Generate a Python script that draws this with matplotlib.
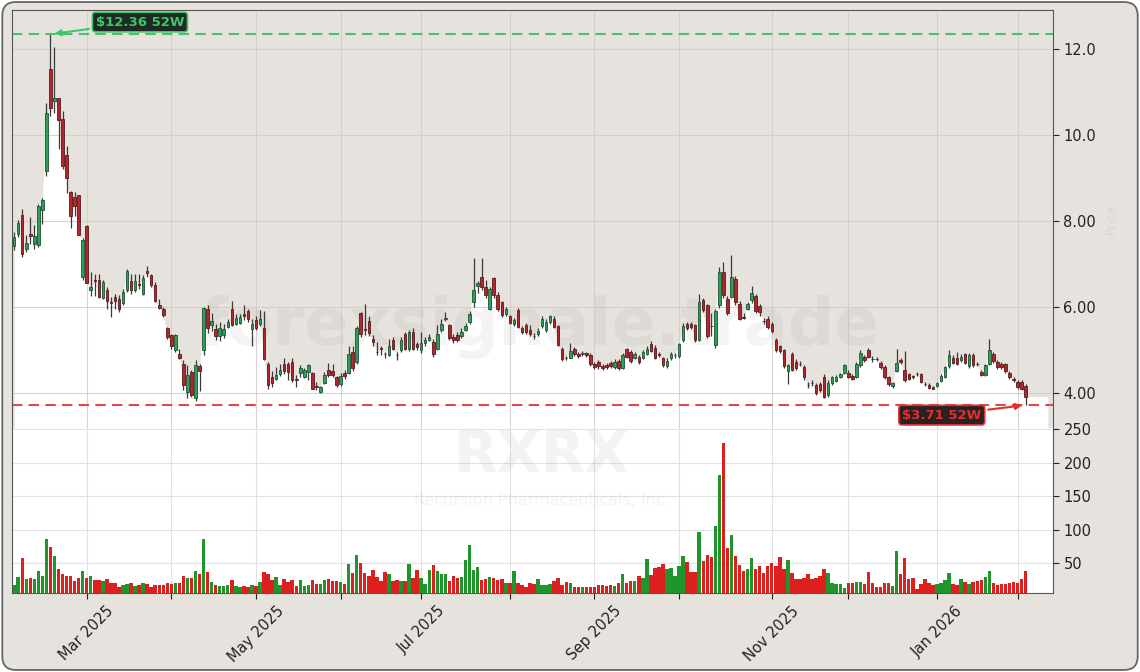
import numpy as np
import pandas as pd
import matplotlib
matplotlib.use('Agg')
import matplotlib.pyplot as plt
from matplotlib.patches import FancyBboxPatch

# RXRX daily candles, Feb 4 2025 - Feb 4 2026 (NYSE trading days)
holidays = ['2025-02-17', '2025-04-18', '2025-05-26', '2025-06-19', '2025-07-04',
            '2025-09-01', '2025-11-27', '2025-12-25', '2026-01-01', '2026-01-19']
dates = pd.bdate_range('2025-02-04', '2026-02-04')
dates = dates[~dates.isin(pd.to_datetime(holidays))]

opens = [7.43, 7.71, 8.15, 7.36, 7.70, 7.47, 7.45, 8.27, 9.16, 11.54,
         10.81, 10.87, 10.38, 9.53, 8.67, 8.56, 8.60, 6.69, 7.88, 6.40,
         6.62, 6.62, 6.21, 6.39, 6.12, 6.23, 6.18, 6.10, 6.39, 6.60,
         6.39, 6.53, 6.31, 6.85, 6.75, 6.52, 6.05, 5.96, 5.51, 5.34,
         4.99, 4.91, 4.68, 4.02, 4.49, 3.87, 4.63, 4.99, 5.96, 5.57,
         5.48, 5.33, 5.34, 5.53, 5.96, 5.61, 5.63, 5.84, 5.90, 5.48,
         5.69, 5.61, 5.50, 4.68, 4.37, 4.33, 4.43, 4.66, 4.68, 4.72,
         4.32, 4.45, 4.37, 4.49, 4.47, 4.15, 4.02, 4.22, 4.53, 4.50,
         4.37, 4.20, 4.47, 4.47, 4.95, 4.72, 5.86, 5.48, 5.67, 5.26,
         4.96, 5.04, 4.91, 4.88, 5.23, 4.89, 4.99, 5.38, 5.01, 5.42,
         5.13, 4.99, 5.16, 5.23, 5.19, 5.03, 5.46, 5.73, 5.57, 5.30,
         5.34, 5.32, 5.47, 5.65, 6.12, 6.50, 6.71, 6.47, 5.96, 6.67,
         6.29, 6.12, 5.84, 5.78, 5.61, 5.94, 5.50, 5.57, 5.47, 5.33,
         5.36, 5.55, 5.47, 5.65, 5.73, 5.55, 5.03, 4.81, 4.82, 5.03,
         4.90, 4.90, 4.93, 4.88, 4.68, 4.72, 4.62, 4.64, 4.70, 4.60,
         4.74, 4.57, 5.01, 4.95, 4.82, 4.84, 4.82, 4.91, 5.13, 5.05,
         4.90, 4.80, 4.62, 4.80, 4.87, 4.86, 5.22, 5.61, 5.61, 5.57,
         5.22, 6.16, 6.04, 5.56, 5.11, 6.04, 6.81, 6.19, 6.23, 6.66,
         6.08, 5.76, 5.96, 6.16, 6.25, 6.02, 5.68, 5.71, 5.60, 5.22,
         5.08, 4.99, 4.51, 4.91, 4.72, 4.68, 4.60, 4.19, 4.23, 4.18,
         4.20, 4.37, 3.95, 4.22, 4.28, 4.37, 4.47, 4.47, 4.39, 4.37,
         4.64, 4.84, 4.99, 4.79, 4.79, 4.70, 4.60, 4.37, 4.16, 4.51,
         4.76, 4.53, 4.43, 4.38, 4.44, 4.43, 4.21, 4.18, 4.14, 4.16,
         4.28, 4.37, 4.62, 4.82, 4.80, 4.76, 4.90, 4.62, 4.88, 4.68,
         4.49, 4.41, 4.67, 4.91, 4.72, 4.68, 4.67, 4.47, 4.32, 4.26,
         4.26, 4.16]

highs = [7.74, 8.02, 8.29, 7.67, 8.09, 7.90, 8.40, 8.53, 10.75, 12.36,
         12.05, 10.88, 10.57, 9.76, 8.71, 8.67, 8.61, 7.60, 7.90, 6.82,
         6.78, 6.78, 6.62, 6.47, 6.23, 6.31, 6.28, 6.43, 6.89, 6.78,
         6.78, 6.78, 6.74, 6.95, 6.78, 6.58, 6.19, 6.00, 5.53, 5.38,
         5.38, 5.03, 4.76, 4.64, 4.53, 4.76, 4.66, 6.00, 6.05, 5.87,
         5.60, 5.64, 5.60, 5.72, 6.13, 5.84, 5.84, 6.04, 5.96, 5.73,
         5.78, 5.94, 5.90, 4.72, 4.50, 4.60, 4.66, 4.80, 4.72, 4.82,
         4.41, 4.64, 4.57, 4.68, 4.49, 4.26, 4.16, 4.49, 4.70, 4.68,
         4.40, 4.47, 4.52, 5.08, 5.08, 5.55, 5.88, 6.08, 5.78, 5.34,
         5.19, 5.08, 4.96, 5.26, 5.30, 4.95, 5.30, 5.42, 5.47, 5.50,
         5.19, 5.42, 5.30, 5.38, 5.26, 5.57, 5.73, 5.88, 5.60, 5.36,
         5.42, 5.50, 5.62, 5.90, 7.15, 6.60, 7.15, 6.62, 6.47, 6.69,
         6.35, 6.15, 6.00, 5.82, 5.75, 5.97, 5.55, 5.62, 5.57, 5.40,
         5.50, 5.78, 5.72, 5.82, 5.78, 5.58, 5.06, 4.85, 5.16, 5.06,
         4.95, 4.98, 4.96, 4.92, 4.72, 4.76, 4.67, 4.70, 4.74, 4.78,
         4.79, 4.92, 5.05, 4.99, 4.95, 4.88, 5.00, 5.08, 5.20, 5.12,
         4.95, 4.84, 4.80, 4.95, 4.93, 5.17, 5.62, 5.65, 5.65, 5.60,
         6.30, 6.20, 6.08, 5.86, 5.95, 6.94, 7.05, 6.25, 7.20, 6.72,
         6.15, 5.85, 6.12, 6.50, 6.30, 6.08, 5.75, 5.80, 5.66, 5.27,
         5.12, 5.02, 4.68, 4.96, 4.78, 4.74, 4.65, 4.25, 4.30, 4.22,
         4.26, 4.43, 4.30, 4.40, 4.41, 4.47, 4.68, 4.52, 4.43, 4.72,
         4.99, 4.88, 5.04, 4.85, 4.84, 4.74, 4.64, 4.40, 4.26, 5.03,
         4.80, 4.98, 4.47, 4.42, 4.48, 4.47, 4.25, 4.22, 4.17, 4.26,
         4.43, 4.63, 4.99, 4.87, 4.96, 4.90, 4.93, 4.93, 4.92, 4.72,
         4.53, 4.68, 5.26, 4.95, 4.76, 4.72, 4.70, 4.50, 4.36, 4.29,
         4.31, 4.20]

lows = [7.32, 7.63, 7.16, 7.28, 7.47, 7.34, 7.40, 7.94, 9.06, 10.46,
        10.53, 9.68, 9.22, 8.65, 7.84, 8.13, 7.67, 6.62, 6.55, 6.25,
        6.26, 6.20, 6.18, 5.95, 5.77, 5.96, 5.88, 6.04, 6.35, 6.31,
        6.35, 6.43, 6.27, 6.70, 6.47, 6.11, 5.96, 5.77, 5.26, 5.03,
        4.95, 4.78, 4.06, 3.87, 3.91, 3.81, 4.05, 4.88, 5.40, 5.45,
        5.22, 5.20, 5.28, 5.50, 5.55, 5.58, 5.60, 5.70, 5.66, 5.10,
        5.46, 5.56, 4.76, 4.10, 4.14, 4.29, 4.38, 4.43, 4.31, 4.25,
        4.14, 4.37, 4.34, 4.30, 4.08, 4.06, 3.99, 4.20, 4.37, 4.36,
        4.14, 4.16, 4.33, 4.44, 4.50, 4.66, 5.30, 5.34, 5.33, 5.10,
        4.88, 4.88, 4.80, 4.85, 4.99, 4.76, 4.95, 5.00, 4.98, 5.00,
        5.00, 4.93, 5.10, 5.20, 4.84, 5.00, 5.42, 5.68, 5.24, 5.15,
        5.18, 5.27, 5.44, 5.60, 6.00, 6.32, 6.40, 6.20, 5.92, 6.20,
        5.90, 5.76, 5.80, 5.60, 5.55, 5.50, 5.36, 5.38, 5.33, 5.25,
        5.32, 5.50, 5.42, 5.60, 5.50, 5.08, 4.75, 4.76, 4.80, 4.85,
        4.80, 4.86, 4.84, 4.62, 4.56, 4.55, 4.52, 4.55, 4.58, 4.56,
        4.53, 4.55, 4.80, 4.70, 4.78, 4.66, 4.78, 4.88, 4.94, 4.78,
        4.84, 4.60, 4.58, 4.76, 4.82, 4.82, 5.18, 5.46, 5.48, 5.18,
        5.20, 5.88, 5.28, 5.33, 5.05, 5.98, 6.20, 5.82, 6.20, 6.05,
        5.70, 5.72, 5.92, 6.10, 5.85, 5.80, 5.60, 5.48, 5.40, 4.95,
        4.93, 4.58, 4.20, 4.50, 4.52, 4.62, 4.30, 4.12, 4.16, 3.96,
        4.02, 3.87, 3.90, 4.18, 4.25, 4.34, 4.44, 4.34, 4.30, 4.34,
        4.60, 4.72, 4.80, 4.72, 4.74, 4.55, 4.32, 4.16, 4.12, 4.48,
        4.68, 4.26, 4.30, 4.32, 4.38, 4.22, 4.16, 4.10, 4.08, 4.13,
        4.25, 4.34, 4.58, 4.66, 4.64, 4.72, 4.66, 4.58, 4.60, 4.62,
        4.38, 4.38, 4.64, 4.70, 4.56, 4.56, 4.47, 4.32, 4.26, 4.10,
        4.06, 3.71]

closes = [7.63, 7.95, 7.24, 7.50, 7.65, 7.65, 8.36, 8.50, 10.52, 10.63,
          10.87, 10.36, 9.29, 9.00, 8.13, 8.36, 7.67, 7.55, 6.57, 6.46,
          6.60, 6.23, 6.58, 6.13, 6.10, 6.15, 5.96, 6.35, 6.85, 6.39,
          6.60, 6.52, 6.68, 6.79, 6.52, 6.15, 5.98, 5.81, 5.30, 5.09,
          5.34, 4.80, 4.18, 4.41, 3.95, 4.64, 4.50, 5.98, 5.51, 5.67,
          5.33, 5.52, 5.48, 5.65, 5.59, 5.74, 5.77, 5.79, 5.73, 5.61,
          5.51, 5.71, 4.78, 4.18, 4.22, 4.41, 4.53, 4.50, 4.49, 4.30,
          4.30, 4.57, 4.53, 4.64, 4.10, 4.14, 4.14, 4.41, 4.41, 4.41,
          4.18, 4.39, 4.39, 4.91, 4.57, 5.50, 5.38, 5.47, 5.40, 5.19,
          4.95, 5.03, 4.90, 5.08, 5.03, 4.88, 5.24, 5.03, 5.42, 5.03,
          5.07, 5.15, 5.24, 5.30, 4.91, 5.38, 5.61, 5.74, 5.27, 5.23,
          5.23, 5.42, 5.55, 5.84, 6.40, 6.56, 6.47, 6.27, 6.43, 6.27,
          5.96, 5.81, 5.96, 5.63, 5.69, 5.54, 5.42, 5.42, 5.38, 5.32,
          5.44, 5.71, 5.65, 5.78, 5.54, 5.11, 4.78, 4.80, 4.98, 4.90,
          4.85, 4.93, 4.88, 4.68, 4.60, 4.62, 4.57, 4.60, 4.62, 4.72,
          4.57, 4.88, 4.84, 4.74, 4.91, 4.72, 4.95, 5.03, 4.98, 4.82,
          4.89, 4.64, 4.74, 4.91, 4.88, 5.13, 5.55, 5.50, 5.53, 5.22,
          6.12, 5.92, 5.32, 5.55, 5.91, 6.81, 6.27, 5.86, 6.69, 6.12,
          5.73, 5.75, 6.06, 6.33, 5.91, 5.88, 5.67, 5.53, 5.44, 5.00,
          4.98, 4.62, 4.64, 4.53, 4.57, 4.67, 4.36, 4.18, 4.22, 4.00,
          4.06, 3.91, 4.22, 4.36, 4.37, 4.43, 4.64, 4.37, 4.33, 4.68,
          4.93, 4.76, 4.84, 4.78, 4.78, 4.59, 4.37, 4.20, 4.22, 4.70,
          4.72, 4.29, 4.33, 4.37, 4.43, 4.26, 4.20, 4.12, 4.10, 4.22,
          4.39, 4.59, 4.88, 4.70, 4.68, 4.84, 4.70, 4.88, 4.64, 4.67,
          4.41, 4.64, 4.99, 4.74, 4.60, 4.60, 4.51, 4.36, 4.31, 4.14,
          4.10, 3.91]

# volume in millions of shares
volume = [17.5, 30, 58, 26, 28, 26, 39, 31, 86, 74,
          61, 41, 34, 31, 31, 23, 28, 39, 28, 31,
          25, 25, 23, 26, 20, 20, 14, 17.5, 19, 20,
          16, 17.5, 20, 19, 15, 17.5, 17.5, 17.5, 20, 19,
          20, 20, 31, 28, 28, 39, 34, 86, 37, 21.5,
          17.5, 16, 16, 17.5, 25, 16, 15, 16, 14, 17.5,
          16, 21.5, 37, 34, 25, 30, 17.5, 27, 21.5, 25,
          16, 25, 16, 17.5, 25, 19, 19, 25, 27, 24,
          24, 21.5, 19, 49, 36, 62, 50, 35, 31, 40,
          30, 23.7, 36.6, 34, 23.7, 25, 23.7, 23.7, 49, 27.6,
          40, 27.6, 19, 40, 47.5, 37.6, 34, 34, 23.7, 31,
          27.6, 30, 55, 77, 40, 45, 25, 26, 28.7, 27.6,
          25, 26, 20, 20, 38.6, 20, 17.7, 15, 20, 18.7,
          26, 17.7, 17.7, 18.7, 23.7, 27.6, 17.7, 21.7, 20, 15,
          15, 15, 15, 15, 15, 17.7, 17.7, 16, 17.7, 16,
          20, 34, 20, 23.7, 23.7, 31, 27.6, 56, 32.6, 43.5,
          45, 49, 41, 42.5, 31, 46, 61, 51.5, 36.6, 36.6,
          96, 53.5, 62, 59, 105.5, 181.5, 230, 72, 91.5, 61,
          47.5, 37.6, 41, 57.4, 41, 46, 36, 46, 50, 46,
          59.4, 41, 55, 35, 26, 26, 27.6, 34, 26, 27.6,
          31, 41, 35, 20, 18.7, 18.7, 12.8, 20, 20, 21.7,
          21.7, 18.7, 36.6, 20, 15, 15, 20, 20, 16, 68,
          34, 57.4, 26, 27.6, 11, 19, 26, 20, 17.7, 18.7,
          20, 25, 35, 18.7, 17.7, 26, 21.7, 18.7, 21.7, 23.7,
          25, 30, 37.6, 20, 17.7, 18.7, 18.7, 20, 21.7, 20,
          26, 38.6]

o = np.array(opens)
h = np.array(highs)
l = np.array(lows)
c = np.array(closes)
v = np.array(volume)
x = np.arange(len(dates))
up = c >= o

bg = '#e6e3de'
fig = plt.figure(figsize=(11.4, 6.72), dpi=100, facecolor='white')
fig.patches.append(FancyBboxPatch((0.002, 0.003), 0.996, 0.994,
                                  boxstyle='round,pad=0,rounding_size=0.012',
                                  mutation_aspect=1140/672,
                                  transform=fig.transFigure, facecolor=bg,
                                  edgecolor='#666666', lw=1.3, zorder=-10))

ax = fig.add_axes([0.0105, 0.3631, 0.9132, 0.6220])
axv = fig.add_axes([0.0105, 0.1176, 0.9132, 0.2455], sharex=ax)
for a in (ax, axv):
    a.set_facecolor(bg)
    for s in a.spines.values():
        s.set_color('#555555')
ax.spines['bottom'].set_visible(False)
axv.spines['top'].set_visible(False)
axv.set_facecolor('white')

# price panel
ax.set_ylim(3.18, 12.92)
ax.set_xlim(-0.55, len(x) + 5.8)
xf = np.append(x, x[-1] + 5.5)
cf = np.append(c, c[-1])
ax.fill_between(xf, cf, 3.18, color='white', lw=0, zorder=0.3)
ax.vlines(x, l, h, color='#3a3a3a', lw=0.9, zorder=2)
ax.bar(x[up], c[up] - o[up], bottom=o[up], width=0.62, color='#2f9e58',
       edgecolor='#1d5233', lw=0.6, zorder=3)
ax.bar(x[~up], o[~up] - c[~up], bottom=c[~up], width=0.62, color='#b3262c',
       edgecolor='#5b1a1c', lw=0.6, zorder=3)

hi_i, lo_i = int(np.argmax(h)), int(np.argmin(l))
hi, lo = h[hi_i], l[lo_i]
ax.axhline(hi, color='#45c46e', ls=(0, (5, 3)), lw=1.5, zorder=2.5)
ax.axhline(lo, color='#dd4a4a', ls=(0, (5, 3)), lw=1.5, zorder=2.5)
ax.annotate('\\$%.2f 52W' % hi, xy=(hi_i + 0.3, hi), xytext=(31.2, 12.64),
            color='#3fc66c', fontweight='bold', fontsize=9.5, ha='center', va='center',
            bbox=dict(boxstyle='round,pad=0.25', fc='#1e2b22', ec='#3fc66c', lw=1.2),
            arrowprops=dict(arrowstyle='-|>', color='#3fc66c', lw=1.5, mutation_scale=9),
            zorder=6)
ax.annotate('\\$%.2f 52W' % lo, xy=(lo_i - 0.2, lo), xytext=(230.2, 3.48),
            color='#e03030', fontweight='bold', fontsize=9.5, ha='center', va='center',
            bbox=dict(boxstyle='round,pad=0.25', fc='#2a2222', ec='#e03030', lw=1.2),
            arrowprops=dict(arrowstyle='-|>', color='#e03030', lw=1.5, mutation_scale=9),
            zorder=6, annotation_clip=False)

ax.text(0.507, 0.242, 'forexsignale.trade', transform=ax.transAxes, fontsize=47,
        fontweight='bold', color='#8a8a8a', alpha=0.09, ha='center', va='center', zorder=1)

ax.yaxis.tick_right()
ax.set_yticks([4, 6, 8, 10, 12])
ax.set_yticklabels(['4.00', '6.00', '8.00', '10.0', '12.0'])
ax.tick_params(axis='y', labelsize=10.5, colors='#222222', length=4)
ax.tick_params(axis='x', bottom=False, labelbottom=False)
ax.yaxis.set_label_position('right')
ax.set_ylabel('Price', color='#d9d6d0', fontsize=9, labelpad=6)

# volume panel
vc = np.where(up, '#1f952c', '#dc1f1f')
axv.bar(x, v, width=0.86, color=vc, zorder=2)
axv.set_ylim(5.5, 252)
axv.yaxis.tick_right()
axv.set_yticks([50, 100, 150, 200, 250])
axv.tick_params(axis='y', labelsize=10.5, colors='#222222', length=4)
axv.yaxis.set_label_position('right')
axv.set_ylabel('Volume\n(M)', color='#e8e8e8', fontsize=9, labelpad=6)
axv.text(0.509, 0.83, 'RXRX', transform=axv.transAxes, fontsize=41, fontweight='bold',
         color='#8a8a8a', alpha=0.1, ha='center', va='center', zorder=1)
axv.text(0.509, 0.56, 'Recursion Pharmaceuticals, Inc.', transform=axv.transAxes,
         fontsize=11.5, color='#8a8a8a', alpha=0.1, ha='center', va='center', zorder=1)

month_pos = [i for i in range(1, len(dates)) if dates[i].month != dates[i - 1].month]
month_lab = [dates[i].strftime('%b %Y') if dates[i].month % 2 == 1 else '' for i in month_pos]
axv.set_xticks(month_pos)
axv.set_xticklabels(month_lab, rotation=45)
axv.tick_params(axis='x', labelsize=10.5, colors='#222222', length=4)

ax.set_axisbelow(True)
axv.set_axisbelow(True)
ax.grid(True, color='#cfcbc5', lw=0.8, alpha=0.8)
axv.grid(True, color='#e2e2e2', lw=0.8)

fig.savefig('out.png', dpi=100, facecolor=fig.get_facecolor())
